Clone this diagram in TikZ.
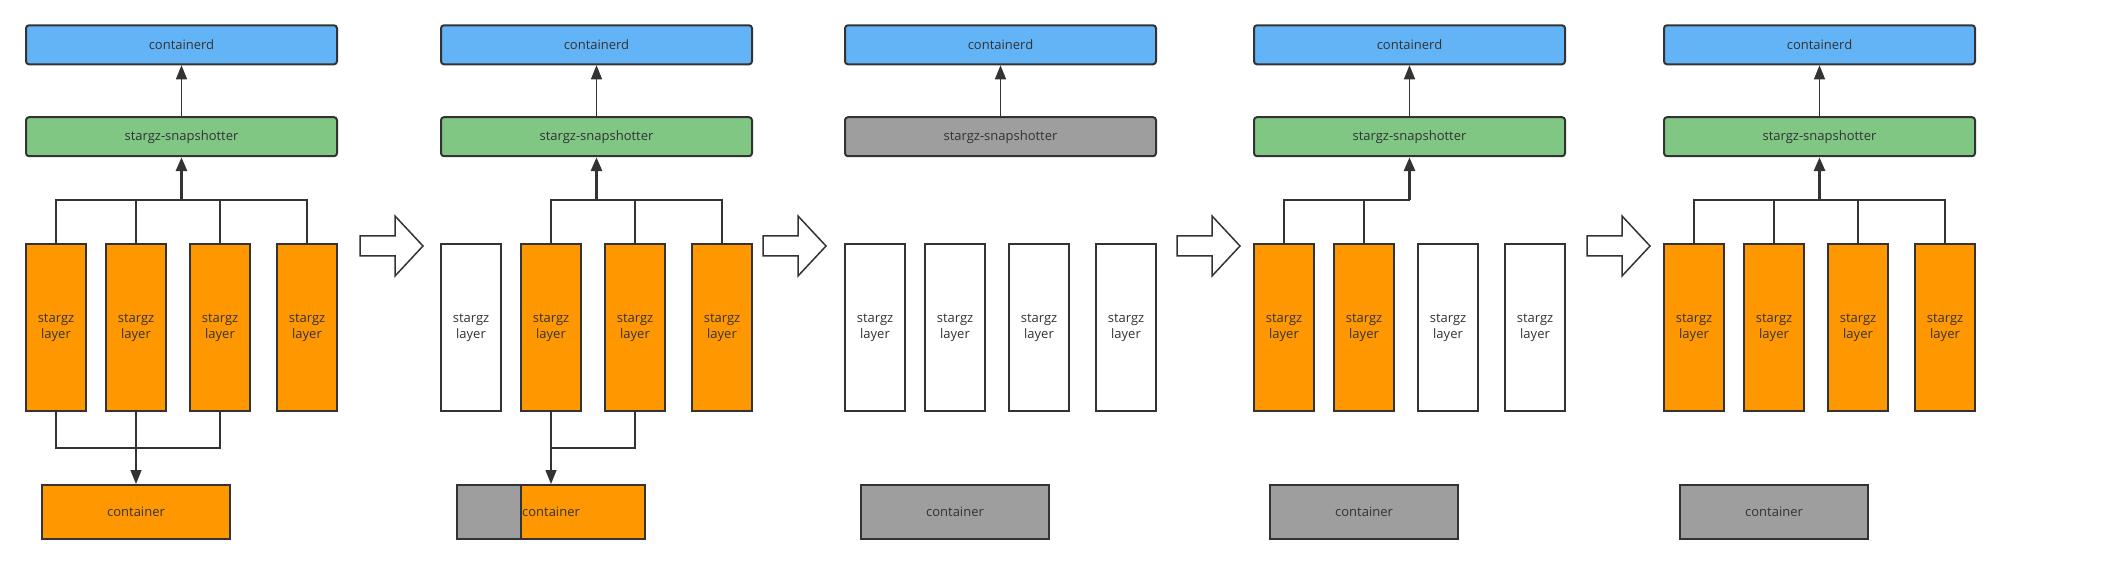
\documentclass[tikz,border=0pt]{standalone}
\usepackage{fontspec}
\setmainfont{Open Sans}
\usetikzlibrary{arrows.meta}
\definecolor{dblue}{HTML}{63B4F6}
\definecolor{sgreen}{HTML}{80C784}
\definecolor{lorange}{HTML}{FF9800}
\definecolor{lgray}{HTML}{9E9E9E}
\definecolor{edge}{HTML}{333333}
\tikzset{
  topbox/.style={draw=edge,line width=2pt,rounded corners=3pt,minimum width=311pt,minimum height=39pt,inner sep=0pt,text=edge,font=\fontsize{13}{15}\selectfont},
  layerbox/.style={draw=edge,line width=2pt,minimum width=60pt,minimum height=167pt,inner sep=0pt,align=center,text=edge,font=\fontsize{13}{16.3}\selectfont},
  contbox/.style={draw=edge,line width=2pt,fill=lgray,minimum width=188pt,minimum height=54pt,inner sep=0pt,text=edge,font=\fontsize{13}{15}\selectfont},
  link/.style={draw=edge,line width=1.5pt,-{Triangle[length=14pt,width=11pt]}},
  bus/.style={draw=edge,line width=1.5pt},
}
\begin{document}
\begin{tikzpicture}[x=1pt,y=-1pt]
    \useasboundingbox (0,0) rectangle (2107,569);
    % the five stages
    \foreach \i/\dx/\snap/\fa/\fb/\fc/\fd in {1/0/sgreen/lorange/lorange/lorange/lorange,
        2/415/sgreen/white/lorange/lorange/lorange, 3/819/lgray/white/white/white/white,
        4/1228/sgreen/lorange/lorange/white/white, 5/1638/sgreen/lorange/lorange/lorange/lorange} {
      \node[topbox,fill=dblue] (d\i) at (\dx+181.5,44.8) {containerd};
      \node[topbox,fill=\snap] (s\i) at (\dx+181.5,136.7) {stargz-snapshotter};
      \draw[link] (s\i) -- (d\i);
      \foreach \j/\x/\f in {1/56/\fa,2/136/\fb,3/220/\fc,4/307/\fd} {
        \node[layerbox,fill=\f] (l\i\j) at (\dx+\x,327.8) {stargz\\layer};
      }
      \coordinate (t\i) at (\dx+181.5,200);
      \coordinate (b\i) at (\dx+136,448);
    }
    \node[contbox,fill=lorange] (k1) at (136,512) {container};
    \node[contbox,path picture={
        \fill[lorange] ([xshift=64pt]path picture bounding box.north west) rectangle (path picture bounding box.south east);
        \draw[edge,line width=2pt] ([xshift=64pt]path picture bounding box.north west) -- ([xshift=64pt]path picture bounding box.south west);
      }] (k2) at (551,512) {container};
    \foreach \i/\dx in {3/819,4/1228,5/1638} {
      \node[contbox] (k\i) at (\dx+136,512) {container};
    }
    % layers up to the snapshotter
    \foreach \i/\js in {1/{1,2,3,4},2/{2,3,4},4/{1,2},5/{1,2,3,4}} {
      \foreach \j in \js {
        \draw[bus] (l\i\j.north) |- (t\i);
      }
      \draw[link,line width=3pt] (t\i) -- (s\i);
    }
    % layers down to the container
    \draw[bus] (l11.south) |- (b1);
    \draw[bus] (l13.south) |- (b1);
    \draw[link] (l12.south) -- (k1.north);
    \draw[bus] (l23.south) |- (b2);
    \draw[link] (l22.south) -- (k2.north);
    % block arrows between stages
    \foreach \ax in {360,763,1177,1587} {
      \draw[edge,line width=1.5pt,fill=white] (\ax,236) -- (\ax+35,236) -- (\ax+35,216) -- (\ax+63,246)
        -- (\ax+35,276) -- (\ax+35,256) -- (\ax,256) -- cycle;
    }
\end{tikzpicture}
\end{document}
